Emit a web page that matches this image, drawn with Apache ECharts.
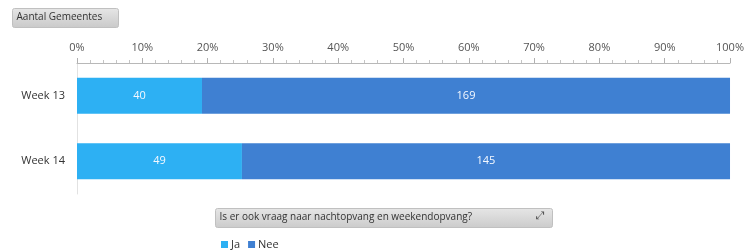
<!DOCTYPE html>
<html>
<head>
<meta charset="utf-8">
<script src="https://cdn.jsdelivr.net/npm/echarts@6/dist/echarts.min.js"></script>
<style>
  html, body { margin: 0; padding: 0; background: #fff; }
  #chart { width: 747px; height: 251px; }
</style>
</head>
<body>
<div id="chart"></div>
<script>
const weeks = ['Week 13', 'Week 14']
const ja = [40, 49]
const nee = [169, 145]
const tickLabels = ['0%', '10%', '20%', '30%', '40%', '50%', '60%', '70%', '80%', '90%', '100%']

// aandeel per week, zodat de balken tot 100% lopen
const totals = weeks.map((w, i) => ja[i] + nee[i])
const pct = (arr) => arr.map((v, i) => (v / totals[i]) * 100)

const chart = echarts.init(document.getElementById('chart'))

const labelStyle = (counts) => ({
  show: true,
  position: 'inside',
  color: '#f4f8ff',
  fontSize: 11,
  fontFamily: 'Open Sans',
  formatter: (p) => counts[p.dataIndex],
})

const options = {
  animation: false,
  textStyle: { fontFamily: 'Open Sans' },
  grid: { left: 77, right: 16, top: 63, bottom: 57 },
  legend: {
    left: 216,
    top: 234,
    itemWidth: 7,
    itemHeight: 7,
    itemGap: 8,
    icon: 'rect',
    textStyle: { fontSize: 11, color: '#333', padding: [0, 0, 0, -2] },
    data: ['Ja', 'Nee'],
  },
  xAxis: {
    type: 'value',
    position: 'top',
    min: 0,
    max: 100,
    interval: 10,
    axisLine: { show: true, lineStyle: { color: '#b8b8b8' } },
    axisTick: { show: true, length: 5, lineStyle: { color: '#b0b0b0' } },
    minorTick: { show: true, splitNumber: 5, length: 3, lineStyle: { color: '#c4c4c4' } },
    splitLine: { show: false },
    axisLabel: {
      color: '#555',
      fontSize: 11,
      margin: 10,
      formatter: (v) => tickLabels[Math.round(v / 10)],
    },
  },
  yAxis: {
    type: 'category',
    inverse: true,
    data: weeks,
    axisLine: { show: true, lineStyle: { color: '#e2e2e2' } },
    axisTick: { show: false },
    axisLabel: { color: '#333', fontSize: 11, margin: 12 },
  },
  series: [
    {
      name: 'Ja',
      type: 'bar',
      stack: 'totaal',
      barWidth: 36,
      itemStyle: { color: '#2db0f3' },
      label: labelStyle(ja),
      data: pct(ja),
    },
    {
      name: 'Nee',
      type: 'bar',
      stack: 'totaal',
      barWidth: 36,
      itemStyle: { color: '#3f80d2' },
      label: labelStyle(nee),
      data: pct(nee),
    },
  ],
  graphic: [
    {
      type: 'group',
      left: 12,
      top: 8,
      children: [
        {
          type: 'rect',
          shape: { width: 106, height: 19, r: 2 },
          style: {
            fill: new echarts.graphic.LinearGradient(0, 0, 0, 1, [
              { offset: 0, color: '#e6e6e6' },
              { offset: 1, color: '#c9c9c9' },
            ]),
            stroke: '#c0c0c0',
          },
        },
        {
          type: 'text',
          left: 4,
          top: 4,
          style: { text: 'Aantal Gemeentes', fill: '#333', fontSize: 10, fontFamily: 'Open Sans' },
        },
      ],
    },
    {
      type: 'group',
      left: 215,
      top: 208,
      children: [
        {
          type: 'rect',
          shape: { width: 337, height: 19, r: 2 },
          style: {
            fill: new echarts.graphic.LinearGradient(0, 0, 0, 1, [
              { offset: 0, color: '#e6e6e6' },
              { offset: 1, color: '#cbcbcb' },
            ]),
            stroke: '#c0c0c0',
          },
        },
        {
          type: 'text',
          left: 4,
          top: 4,
          style: {
            text: 'Is er ook vraag naar nachtopvang en weekendopvang?',
            fill: '#333',
            fontSize: 10,
            fontFamily: 'Open Sans',
          },
        },
        {
          type: 'text',
          left: 320,
          top: 2,
          style: { text: '⤢', fill: '#555', fontSize: 11 },
        },
      ],
    },
  ],
}

chart.setOption(options)
</script>
</body>
</html>
